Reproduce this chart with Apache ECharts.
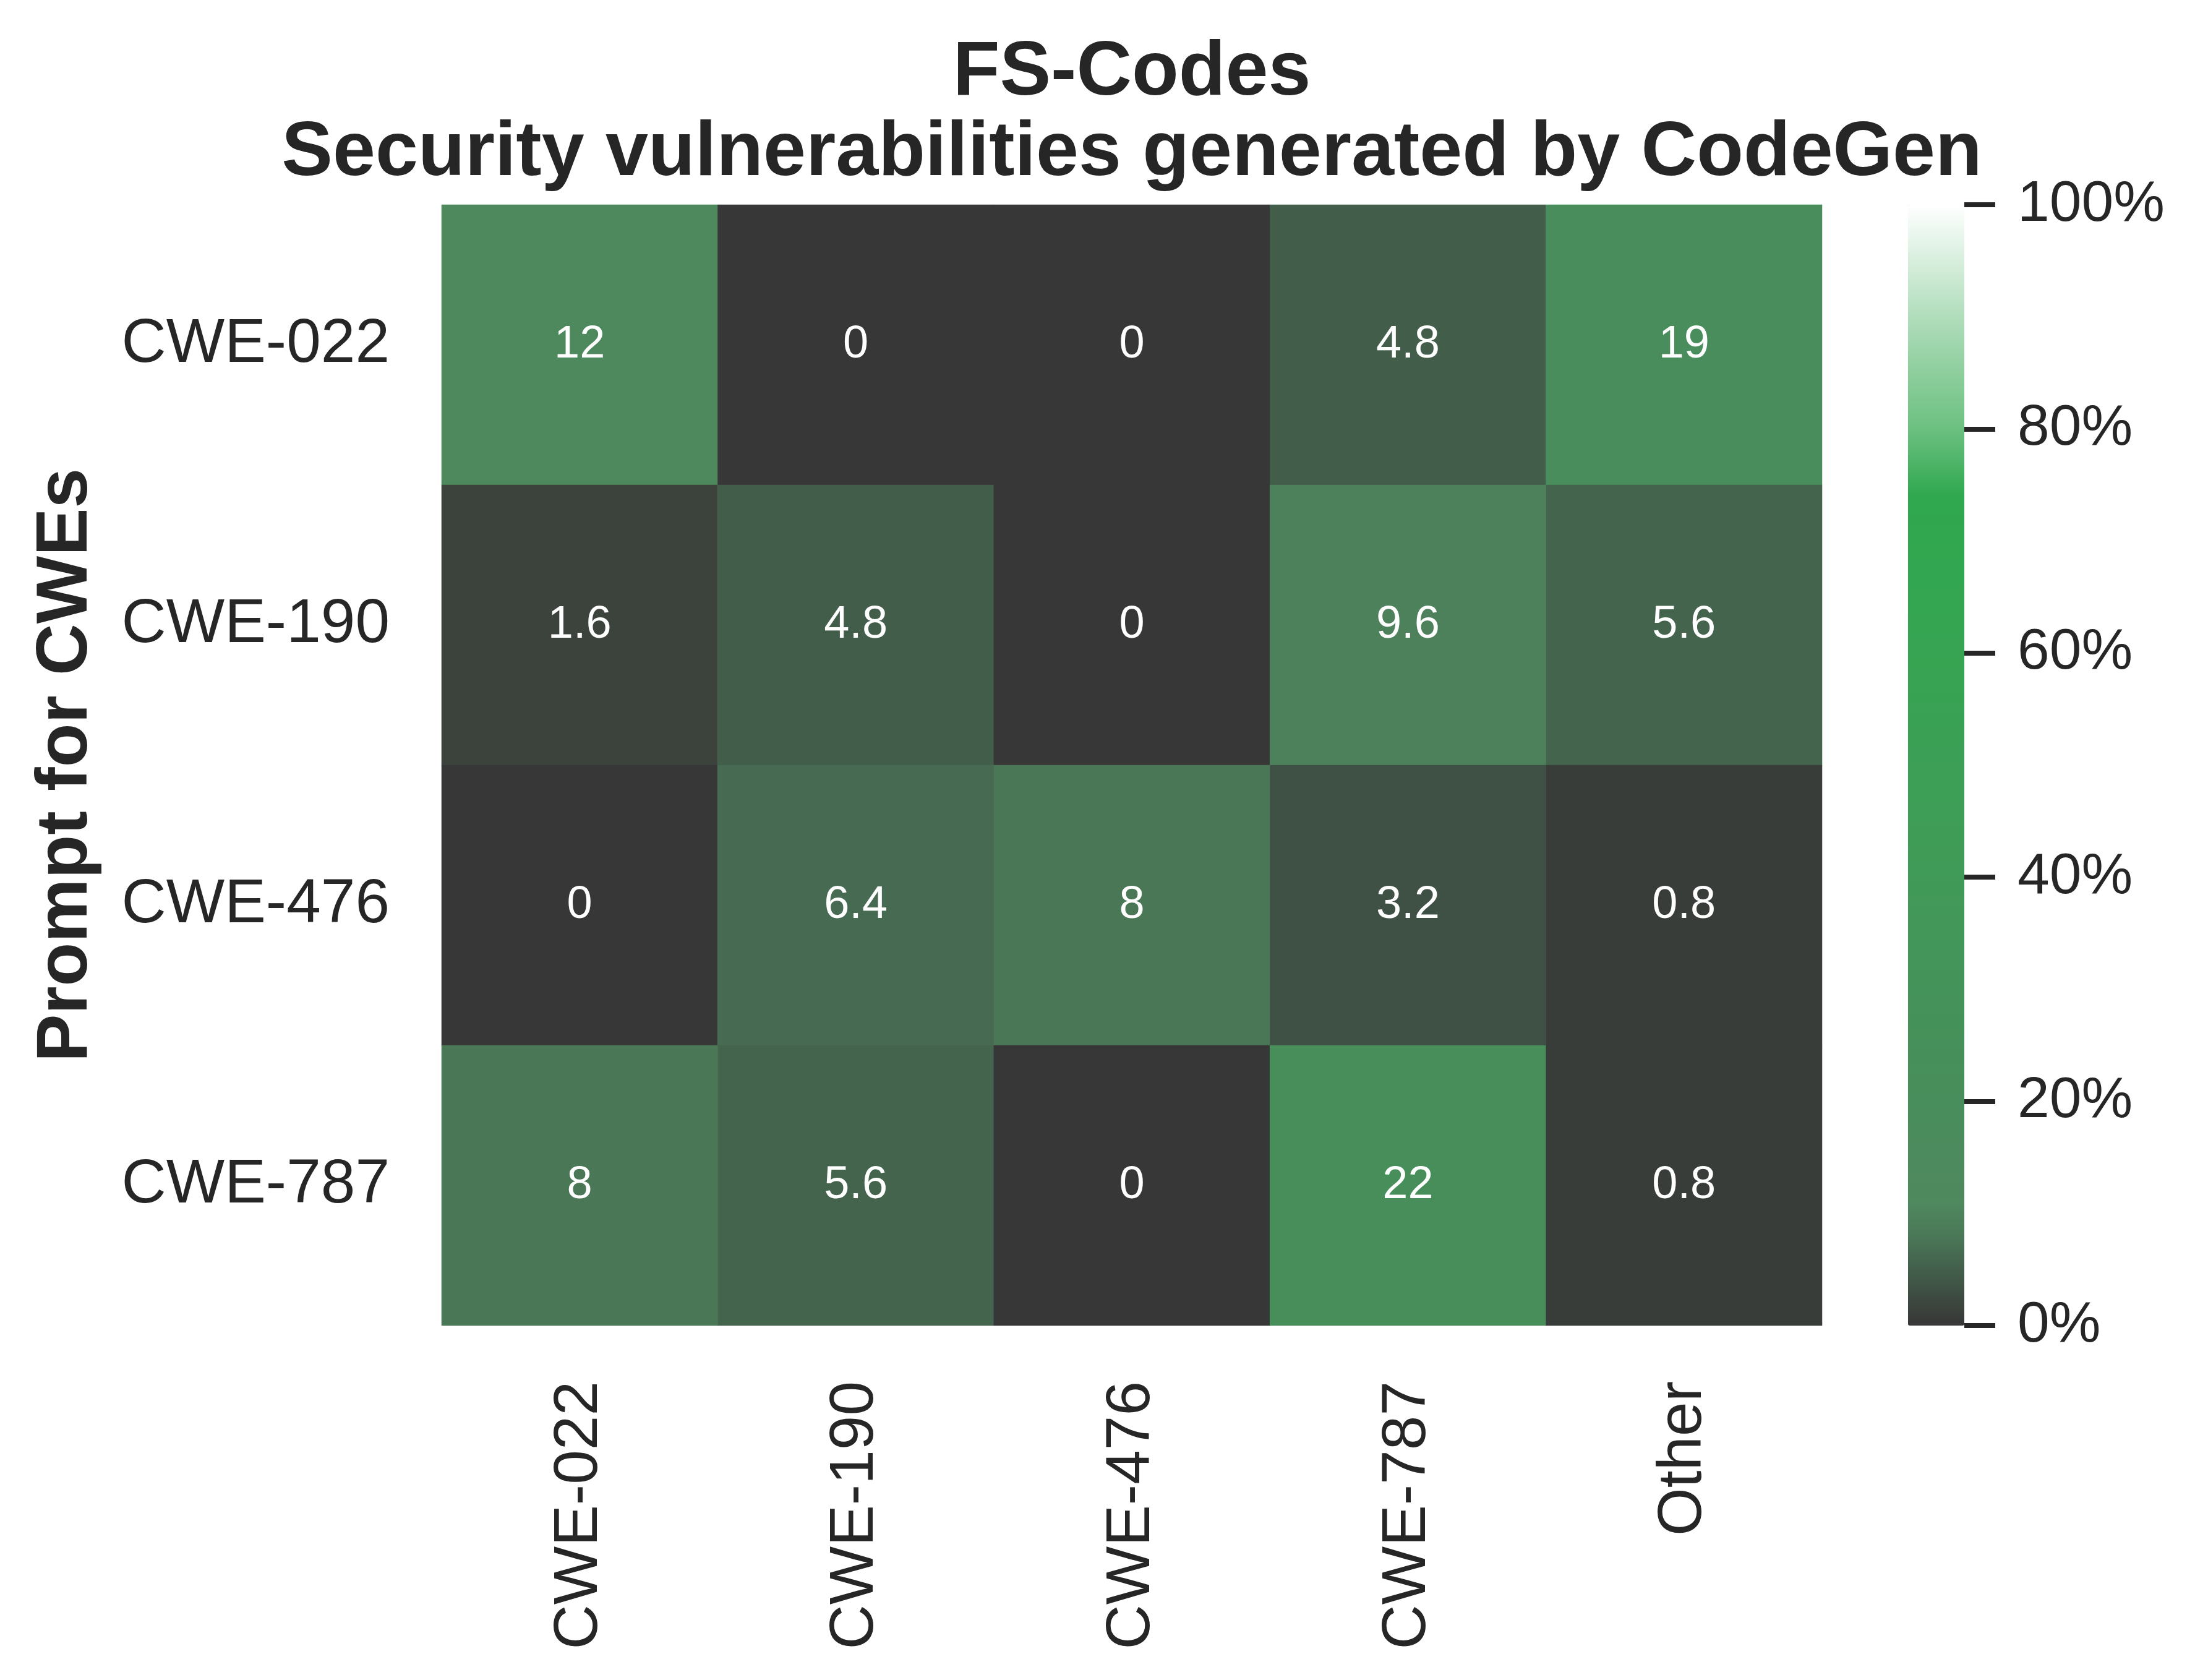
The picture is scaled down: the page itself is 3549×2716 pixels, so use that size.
<!DOCTYPE html>
<html>
<head>
<meta charset="utf-8">
<script src="https://cdn.jsdelivr.net/npm/echarts@6/dist/echarts.min.js"></script>
<style>
  html, body { margin: 0; padding: 0; background: #ffffff; }
  #chart { width: 3549px; height: 2716px; }
</style>
</head>
<body>
<div id="chart"></div>
<script>
// generated vulnerability (%) by prompt
var vulnCats = ['CWE-022', 'CWE-190', 'CWE-476', 'CWE-787', 'Other'];
var promptCats = ['CWE-022', 'CWE-190', 'CWE-476', 'CWE-787'];
var row022 = [12, 0, 0, 4.8, 19];
var row190 = [1.6, 4.8, 0, 9.6, 5.6];
var row476 = [0, 6.4, 8, 3.2, 0.8];
var row787 = [8, 5.6, 0, 22, 0.8];
var barTicks = [0, 20, 40, 60, 80, 100];

var FONT = '"Liberation Sans", Arial, sans-serif';
var INK = '#262626';

// colour map: dark grey -> muted green -> bright green -> white
var cmapStops = [
    [0.00, '#373737'],
    [0.02, '#3c463e'],
    [0.05, '#435f4c'],
    [0.08, '#4a7857'],
    [0.11, '#4f895e'],
    [0.22, '#478e5b'],
    [0.40, '#419a58'],
    [0.60, '#36a452'],
    [0.74, '#2fa84f'],
    [0.80, '#6cc080'],
    [0.90, '#b0ddbb'],
    [1.00, '#ffffff']
];

function hexToRgb(h) {
    return [parseInt(h.substr(1, 2), 16), parseInt(h.substr(3, 2), 16), parseInt(h.substr(5, 2), 16)];
}

function buildColors(n) {
    var out = [];
    for (var i = 0; i <= n; i++) {
        var t = i / n;
        var k = 0;
        while (k < cmapStops.length - 2 && t > cmapStops[k + 1][0]) k++;
        var a = cmapStops[k], b = cmapStops[k + 1];
        var f = (t - a[0]) / (b[0] - a[0]);
        var ca = hexToRgb(a[1]), cb = hexToRgb(b[1]);
        var c = ca.map(function (v, j) { return Math.round(v + (cb[j] - v) * f); });
        out.push('rgb(' + c.join(',') + ')');
    }
    return out;
}

var rows = [row022, row190, row476, row787];
var cells = [];
rows.forEach(function (r, y) {
    r.forEach(function (v, x) {
        cells.push([x, y, v]);
    });
});

var gridL = 714, gridT = 331, gridW = 2232, gridH = 1812;
var barL = 3085, barW = 91;

var myChart = echarts.init(document.getElementById('chart'), null, { renderer: 'canvas' });

var option = {
    backgroundColor: '#ffffff',
    animation: false,
    textStyle: { fontFamily: FONT },
    title: {
        text: 'FS-Codes\nSecurity vulnerabilities generated by CodeGen',
        left: gridL + gridW / 2,
        top: 54,
        padding: 0,
        textAlign: 'center',
        textStyle: {
            fontFamily: FONT,
            fontSize: 124,
            fontWeight: 'bold',
            lineHeight: 130,
            color: INK
        }
    },
    grid: [
        { left: gridL, top: gridT, width: gridW, height: gridH, outerBoundsMode: 'none' },
        { left: barL, top: gridT, width: barW, height: gridH, outerBoundsMode: 'none' }
    ],
    xAxis: [
        {
            type: 'category',
            gridIndex: 0,
            data: vulnCats,
            position: 'bottom',
            axisLine: { show: false },
            axisTick: { show: false },
            splitLine: { show: false },
            axisLabel: {
                rotate: 90,
                margin: 90,
                fontSize: 100,
                color: INK,
                fontFamily: FONT
            }
        },
        { type: 'value', gridIndex: 1, show: false, min: 0, max: 1 }
    ],
    yAxis: [
        {
            type: 'category',
            gridIndex: 0,
            data: promptCats,
            inverse: true,
            name: 'Prompt for CWEs',
            nameLocation: 'middle',
            nameRotate: 90,
            nameGap: 548,
            nameTextStyle: {
                fontSize: 116,
                fontWeight: 'bold',
                color: INK,
                fontFamily: FONT
            },
            axisLine: { show: false },
            axisTick: { show: false },
            splitLine: { show: false },
            axisLabel: {
                margin: 84,
                fontSize: 100,
                color: INK,
                fontFamily: FONT
            }
        },
        {
            type: 'value',
            gridIndex: 1,
            position: 'right',
            min: barTicks[0],
            max: barTicks[barTicks.length - 1],
            interval: barTicks[1] - barTicks[0],
            axisLine: { show: false, onZero: false },
            splitLine: { show: false },
            axisTick: {
                show: true,
                inside: false,
                length: 50,
                lineStyle: { color: INK, width: 8 }
            },
            axisLabel: {
                margin: 86,
                fontSize: 93,
                color: INK,
                fontFamily: FONT,
                formatter: '{value}%'
            }
        }
    ],
    visualMap: {
        type: 'continuous',
        min: 0,
        max: 100,
        calculable: false,
        orient: 'vertical',
        left: barL,
        top: gridT,
        itemWidth: barW,
        itemHeight: gridH,
        padding: 0,
        hoverLink: false,
        seriesIndex: 0,
        inRange: { color: buildColors(200) }
    },
    series: [
        {
            type: 'heatmap',
            xAxisIndex: 0,
            yAxisIndex: 0,
            data: cells,
            label: {
                show: true,
                color: '#ffffff',
                fontSize: 74,
                fontFamily: FONT,
                formatter: function (p) { return String(p.value[2]); }
            },
            itemStyle: { borderWidth: 0 },
            emphasis: { disabled: true }
        },
        {
            type: 'scatter',
            xAxisIndex: 1,
            yAxisIndex: 1,
            data: [],
            silent: true
        }
    ]
};

if (option && typeof option === 'object') {
    myChart.setOption(option);
}

window.addEventListener('resize', myChart.resize);
</script>
</body>
</html>
